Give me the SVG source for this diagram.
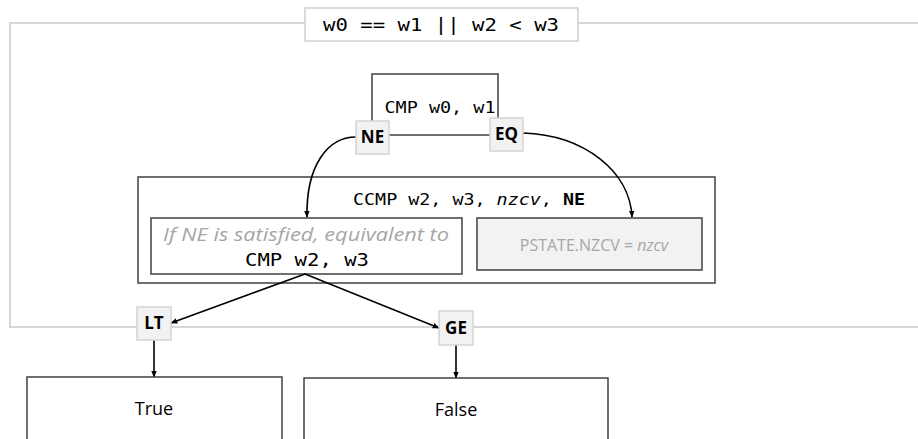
<svg xmlns="http://www.w3.org/2000/svg" width="918" height="439" viewBox="0 0 918 439">
<style>
.mono{font-family:"DejaVu Sans Mono","Liberation Mono",monospace;fill:#000}
.sans{font-family:"Open Sans","Liberation Sans",sans-serif}
.box{fill:#fff;stroke:#404040;stroke-width:1.5}
.lbl{fill:#f2f2f2;stroke:#d4d4d4;stroke-width:1.5}
.lbltxt{font-family:"Open Sans","Liberation Sans",sans-serif;font-weight:bold;font-size:17px;fill:#000;text-anchor:middle}
.conn{fill:none;stroke:#000;stroke-width:1.6}
</style>
<defs>
<marker id="ah" viewBox="0 0 10 10" refX="9" refY="5" markerWidth="7" markerHeight="7" orient="auto" markerUnits="userSpaceOnUse">
<path d="M0,1 L10,5 L0,9 z" fill="#000"/>
</marker>
</defs>
<rect width="918" height="439" fill="#fff"/>
<g id="frame">
<path d="M920,23 H10 V327 H920" fill="none" stroke="#d6d6d6" stroke-width="2"/>
</g>
<g id="title">
<rect x="305" y="8" width="273" height="33" fill="#fff" stroke="#cfcfcf" stroke-width="1.5"/>
<text class="mono" x="441" y="31" font-size="18" text-anchor="middle" textLength="236" lengthAdjust="spacingAndGlyphs">w0 == w1 || w2 &lt; w3</text>
</g>
<g id="cmp1">
<path d="M372,128 V74 H498 V124" fill="none" stroke="#404040" stroke-width="1.5"/>
<line x1="388" y1="135" x2="490" y2="135" stroke="#404040" stroke-width="1.5"/>
<text class="mono" x="440" y="113" font-size="16" text-anchor="middle" textLength="111" lengthAdjust="spacingAndGlyphs">CMP w0, w1</text>
</g>
<g id="ccmp">
<rect class="box" x="138" y="177" width="577" height="106"/>
<text class="mono" x="469" y="205" font-size="16" text-anchor="middle" textLength="232" lengthAdjust="spacingAndGlyphs">CCMP w2, w3, <tspan font-style="italic">nzcv</tspan>, <tspan font-weight="bold">NE</tspan></text>
</g>
<g id="ne-branch">
<rect class="box" x="151" y="218" width="311" height="56"/>
<text class="sans" x="306" y="241" font-size="18" font-style="italic" fill="#a6a6a6" text-anchor="middle" textLength="286" lengthAdjust="spacingAndGlyphs">If NE is satisfied, equivalent to</text>
<text class="mono" x="307" y="266" font-size="18" text-anchor="middle" textLength="124" lengthAdjust="spacingAndGlyphs">CMP w2, w3</text>
</g>
<g id="eq-branch">
<rect x="477" y="218" width="225" height="52" fill="#f2f2f2" stroke="#404040" stroke-width="1.5"/>
<text class="sans" x="594" y="251" font-size="16" fill="#a6a6a6" text-anchor="middle">PSTATE.NZCV = <tspan font-style="italic">nzcv</tspan></text>
</g>
<g id="connectors">
<path class="conn" d="M356,137 C328,137 306,165 307,217" marker-end="url(#ah)"/>
<path class="conn" d="M523,133 C585,135 630,172 632,217" marker-end="url(#ah)"/>
<path class="conn" d="M305,274 L171,323" marker-end="url(#ah)"/>
<path class="conn" d="M305,274 L439,328" marker-end="url(#ah)"/>
<path class="conn" d="M154,340 V377" marker-end="url(#ah)"/>
<path class="conn" d="M456,345 V378" marker-end="url(#ah)"/>
</g>
<g id="NE">
<rect class="lbl" x="356" y="121" width="33" height="33"/>
<text class="lbltxt" x="372.5" y="143">NE</text>
</g>
<g id="EQ">
<rect class="lbl" x="490" y="118" width="33" height="33"/>
<text class="lbltxt" x="506.5" y="140">EQ</text>
</g>
<g id="LT">
<rect class="lbl" x="137" y="307" width="34" height="33"/>
<text class="lbltxt" x="154" y="329">LT</text>
</g>
<g id="GE">
<rect class="lbl" x="439" y="311" width="34" height="34"/>
<text class="lbltxt" x="456" y="334">GE</text>
</g>
<g id="true">
<rect class="box" x="27" y="377" width="255" height="70"/>
<text class="sans" x="154" y="415" font-size="18" fill="#000" text-anchor="middle">True</text>
</g>
<g id="false">
<rect class="box" x="304" y="378" width="304" height="70"/>
<text class="sans" x="456" y="416" font-size="18" fill="#000" text-anchor="middle">False</text>
</g>
</svg>
